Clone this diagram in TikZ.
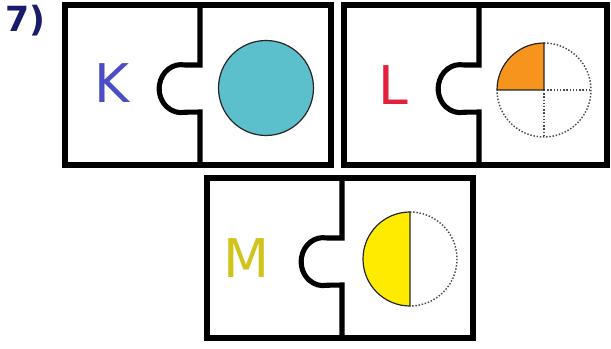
\documentclass[tikz,border=0pt]{standalone}
\usepackage{fontspec}
\setmainfont{DejaVu Sans}
\usetikzlibrary{calc}
\definecolor{navy}{HTML}{1B1B6B}
\definecolor{kblue}{HTML}{4A4DC6}
\definecolor{lred}{HTML}{E2203C}
\definecolor{mgold}{HTML}{D2C21C}
\definecolor{ballcol}{HTML}{5BBFCC}
\definecolor{quartcol}{HTML}{F7941E}
\definecolor{halfcol}{HTML}{FFEB00}

\begin{document}
\begin{tikzpicture}[x=0.75pt, y=0.75pt,
  frame/.style={line width=4.4pt},
  cut/.style={line width=3.8pt},
  part/.style={draw=black!85, line width=0.9pt},
  dots/.style={draw=black!70, line width=1.1pt, dash pattern=on 1.1pt off 1.3pt},
  letter/.style={font=\fontsize{40}{40}\selectfont}]
\useasboundingbox (0,0) rectangle (611,349);
\node[font=\fontsize{26}{26}\selectfont\bfseries, text=navy] (seven) at (25,328) {7)};
\foreach \x/\y/\w in {65/184/266, 344/184/263, 207/11/266} {
  \begin{scope}[shift={(\x,\y)}]
  \draw[frame] (0,0) rectangle (\w,160);
  \draw[cut] (135,160) -- (135,100) -- (120,100) arc[start angle=80, end angle=280, x radius=22, y radius=24] -- (135,53) -- (135,0);
  \end{scope}
}
\node[letter, text=kblue] (K) at (112,266) {K};
\node[letter, text=lred] (L) at (393,264) {L};
\node[letter, text=mgold] (M) at (247,91) {M};
\draw[part, fill=ballcol] (266,261) circle[radius=47.5];
\draw[dots] (544,306) arc[start angle=90, end angle=-180, radius=47];
\draw[dots] (544,259) -- (591,259) (544,259) -- (544,212);
\draw[part, fill=quartcol] (544,259) -- (497,259) arc[start angle=180, end angle=90, radius=47] -- cycle;
\draw[dots] (410,137) arc[start angle=90, end angle=-90, radius=47];
\draw[part, fill=halfcol] (410,137) arc[start angle=90, end angle=270, radius=47] -- cycle;
\end{tikzpicture}
\end{document}
